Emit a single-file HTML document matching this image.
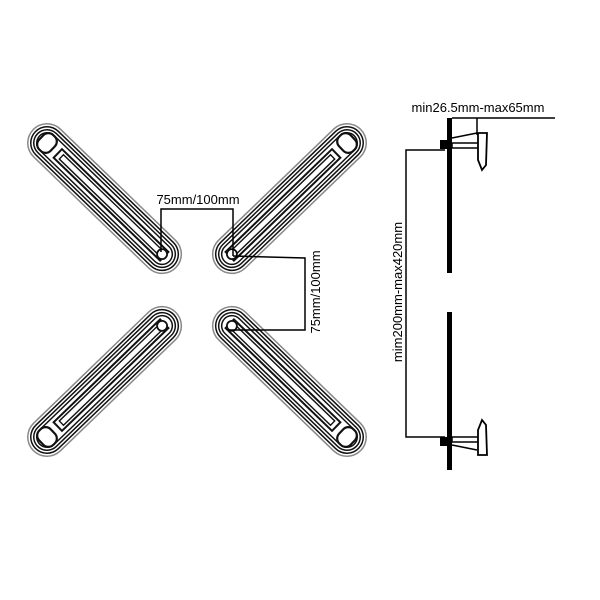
<!DOCTYPE html>
<html><head><style>body{margin:0;background:#fff}svg{display:block}</style></head><body>
<svg width="600" height="600" viewBox="0 0 600 600" xmlns="http://www.w3.org/2000/svg">
<defs>
<g id="arm">
<line x1="0" y1="0" x2="160" y2="0" stroke="#888" stroke-width="40" stroke-linecap="round"/>
<line x1="0" y1="0" x2="160" y2="0" stroke="#fff" stroke-width="37" stroke-linecap="round"/>
<line x1="0" y1="0" x2="160" y2="0" stroke="#111" stroke-width="34" stroke-linecap="round"/>
<line x1="0" y1="0" x2="160" y2="0" stroke="#fff" stroke-width="31" stroke-linecap="round"/>
<line x1="0" y1="0" x2="160" y2="0" stroke="#111" stroke-width="28" stroke-linecap="round"/>
<line x1="0" y1="0" x2="160" y2="0" stroke="#fff" stroke-width="25" stroke-linecap="round"/>
<line x1="0" y1="0" x2="160" y2="0" stroke="#111" stroke-width="22" stroke-linecap="round"/>
<line x1="0" y1="0" x2="160" y2="0" stroke="#fff" stroke-width="19" stroke-linecap="round"/>
<rect x="15" y="-6" width="148" height="12" fill="#fff" stroke="#111" stroke-width="2"/>
<rect x="20" y="-3" width="140" height="6" fill="#fff" stroke="#111" stroke-width="1.4"/>
<circle cx="160" cy="0" r="5" fill="#fff" stroke="#111" stroke-width="1.8"/>
<rect x="-8" y="-10" width="16" height="20" rx="7" fill="#fff" stroke="#111" stroke-width="2.2"/>
</g>
</defs>
<use href="#arm" transform="translate(47,143) rotate(44)"/>
<use href="#arm" transform="translate(347,143) rotate(136)"/>
<use href="#arm" transform="translate(47,437) rotate(-44)"/>
<use href="#arm" transform="translate(347,437) rotate(-136)"/>
<g stroke="#000" stroke-width="1.5" fill="none">
<polyline points="161,252 161,209 233,209 233,256"/>
<polyline points="233,256 305,258 305,330 228,330"/>
</g>
<text x="198" y="204" font-family="Liberation Sans, sans-serif" font-size="13" text-anchor="middle">75mm/100mm</text>
<text transform="translate(320,292) rotate(-90)" font-family="Liberation Sans, sans-serif" font-size="13" text-anchor="middle">75mm/100mm</text>
<rect x="447" y="118" width="5" height="155" fill="#000"/>
<rect x="447" y="312" width="5" height="158" fill="#000"/>
<g stroke="#000" stroke-width="1.5" fill="none">
<polyline points="452,118 555,118"/>
<line x1="477" y1="118" x2="477" y2="135"/>
<polyline points="445,150 406,150 406,437 445,437"/>
<line x1="452" y1="138" x2="477" y2="133"/>
<line x1="452" y1="445" x2="477" y2="450"/>
</g>
<rect x="440" y="140" width="12" height="9" fill="#000"/>
<rect x="452" y="143" width="34" height="5" fill="#fff" stroke="#000" stroke-width="1.5"/>
<path d="M478 133 L487 133 L486 165 L482 170 L478 160 Z" fill="#fff" stroke="#000" stroke-width="1.8"/>
<rect x="440" y="437" width="12" height="9" fill="#000"/>
<rect x="452" y="437" width="34" height="5" fill="#fff" stroke="#000" stroke-width="1.5"/>
<path d="M478 455 L487 455 L486 425 L482 420 L478 430 Z" fill="#fff" stroke="#000" stroke-width="1.8"/>
<text x="478" y="112" font-family="Liberation Sans, sans-serif" font-size="13" text-anchor="middle">min26.5mm-max65mm</text>
<text transform="translate(402,292) rotate(-90)" font-family="Liberation Sans, sans-serif" font-size="13" text-anchor="middle">mim200mm-max420mm</text>
</svg>
</body></html>
